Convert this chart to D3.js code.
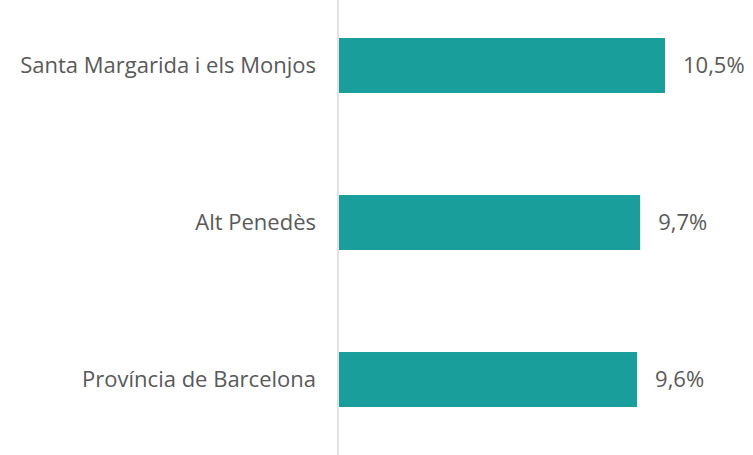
<!DOCTYPE html>
<html>
<head>
<meta charset="utf-8">
<script src="https://cdn.jsdelivr.net/npm/d3@7"></script>
<style>
  body { margin: 0; background: #fff; }
  svg text { font-family: "Open Sans", sans-serif; fill: #595959; }
</style>
</head>
<body>
<svg id="chart"></svg>
<script>
var categories = ["Santa Margarida i els Monjos", "Alt Penedès", "Província de Barcelona"];
var values = [10.5, 9.7, 9.6];
var valueLabels = ["10,5%", "9,7%", "9,6%"];

var width = 753, height = 455;
var x0 = 339;  // axis position

var svg = d3.select("#chart")
    .attr("width", width)
    .attr("height", height);

var xScale = d3.scaleLinear()
    .domain([0, 10.5])
    .range([x0, 665]);

var yScale = d3.scaleBand()
    .domain(categories)
    .range([-13, 458])
    .paddingInner(0.65)
    .paddingOuter(0.325);

svg.selectAll("rect.bar")
  .data(values)
  .enter()
  .append("rect")
    .attr("class", "bar")
    .attr("x", xScale(0))
    .attr("y", function(d, i) { return yScale(categories[i]); })
    .attr("width", function(d) { return xScale(d) - xScale(0); })
    .attr("height", yScale.bandwidth())
    .style("fill", "#1a9e9c");

// vertical axis line
svg.append("line")
    .attr("x1", x0 - 1).attr("x2", x0 - 1)
    .attr("y1", 0).attr("y2", height)
    .style("stroke", "#d9d9d9")
    .style("stroke-width", "1.5px");

// category labels
svg.selectAll("text.cat")
  .data(categories)
  .enter()
  .append("text")
    .attr("class", "cat")
    .attr("x", 316)
    .attr("y", function(d) { return yScale(d) + yScale.bandwidth() / 2; })
    .attr("dy", "0.35em")
    .attr("text-anchor", "end")
    .style("font-size", "22px")
    .text(function(d) { return d; });

// value labels
svg.selectAll("text.val")
  .data(values)
  .enter()
  .append("text")
    .attr("class", "val")
    .attr("x", function(d) { return xScale(d) + 18; })
    .attr("y", function(d, i) { return yScale(categories[i]) + yScale.bandwidth() / 2; })
    .attr("dy", "0.35em")
    .style("font-size", "22px")
    .text(function(d, i) { return valueLabels[i]; });
</script>
</body>
</html>
